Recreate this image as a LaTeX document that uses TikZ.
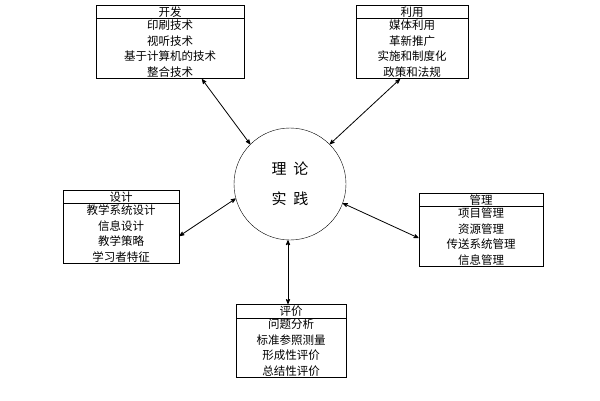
\documentclass[tikz,border=0pt]{standalone}
\usepackage{fontspec}
\setmainfont{Noto Sans CJK SC}
\usetikzlibrary{shapes.multipart,arrows}

\begin{document}
\begin{tikzpicture}[x=1pt,y=-1pt,
  topic/.style={rectangle split, rectangle split parts=2, draw, thick, inner sep=1pt,
    font=\fontsize{11.5}{15.5}\selectfont, align=center, text width=#1},
  link/.style={<->, >=stealth', thick}]
       \useasboundingbox (0,0) rectangle (600,400);
       \node[circle, draw, minimum size=112pt, font=\fontsize{15}{30}\selectfont, align=center] (core) at (290,184) {理\ \ 论\\实\ \ 践};

       \node[topic=146pt, anchor=north] (kaifa) at (170,5) {开发\nodepart{two}印刷技术\\视听技术\\基于计算机的技术\\整合技术};
       \node[topic=110pt, anchor=north] (liyong) at (412,5) {利用\nodepart{two}媒体利用\\革新推广\\实施和制度化\\政策和法规};
       \node[topic=114pt, anchor=north] (sheji) at (121,190) {设计\nodepart{two}教学系统设计\\信息设计\\教学策略\\学习者特征};
       \node[topic=122pt, anchor=north] (guanli) at (481,193) {管理\nodepart{two}项目管理\\资源管理\\传送系统管理\\信息管理};
       \node[topic=108pt, anchor=north] (pingjia) at (291,304) {评价\nodepart{two}问题分析\\标准参照测量\\形成性评价\\总结性评价};

       \draw[link] (kaifa.south -| 202,0) -- (core.135);
       \draw[link] (liyong.south -| 400,0) -- (core.45);
       \draw[link] (sheji.east |- 0,236) -- (core.195);
       \draw[link] (guanli.west |- 0,238) -- (core.340);
       \draw[link] (pingjia.north -| 288,0) -- (core.south -| 288,0);
\end{tikzpicture}
\end{document}
